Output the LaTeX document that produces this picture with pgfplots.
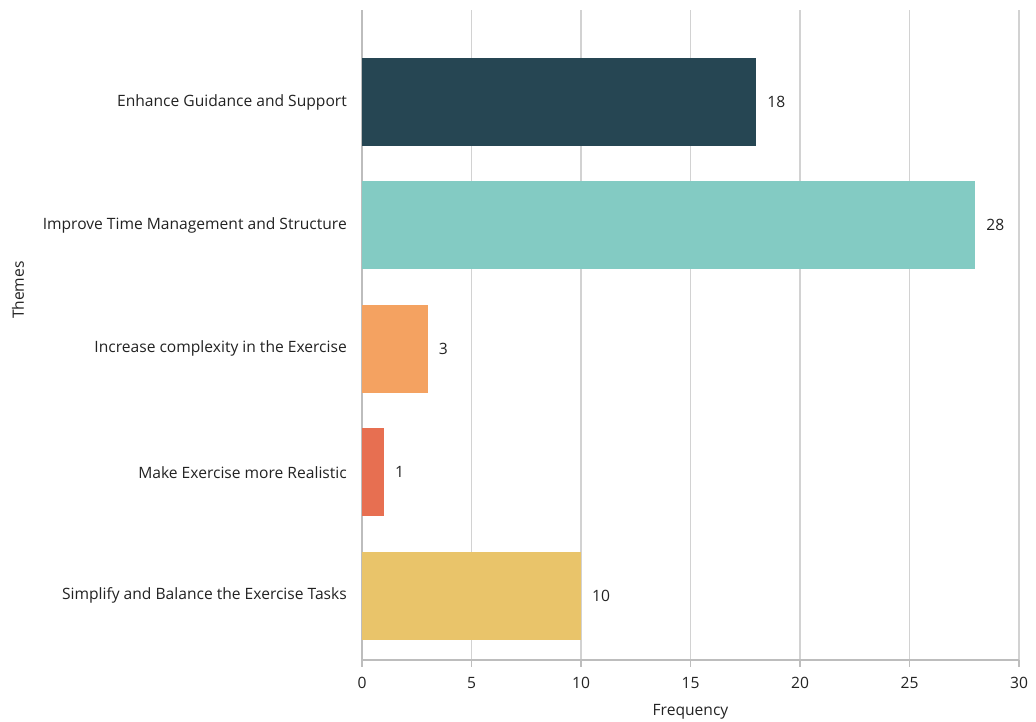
\documentclass[border=0pt]{standalone}
\usepackage{fontspec}
\setmainfont{Open Sans}
\usepackage{pgfplots}
\pgfplotsset{compat=1.18}
\definecolor{c1}{HTML}{264653}
\definecolor{c2}{HTML}{83CBC3}
\definecolor{c3}{HTML}{F4A261}
\definecolor{c4}{HTML}{E76F51}
\definecolor{c5}{HTML}{E9C46A}
\definecolor{gridcol}{HTML}{D2D2D2}
\definecolor{axcol}{HTML}{BDBDBD}
\definecolor{txt}{HTML}{222222}
\begin{document}
\begin{tikzpicture}
\useasboundingbox (-362pt,-62pt) rectangle (674pt,660pt);
\begin{axis}[
  scale only axis, width=657pt, height=650pt,
  at={(0pt,0pt)}, anchor=south west,
  xbar, bar width=0.713, bar shift=0pt,
  xmin=0, xmax=30, ymin=-0.52, ymax=4.745,
  ytick={0,1,2,3,4},
  yticklabels={Simplify and Balance the Exercise Tasks, Make Exercise more Realistic, Increase complexity in the Exercise, Improve Time Management and Structure, Enhance Guidance and Support},
  xtick={0,5,...,30},
  axis x line*=bottom, axis y line*=left,
  axis line style={axcol, line width=1.2pt, -},
  xmajorgrids, grid style={gridcol, line width=1.2pt},
  tick align=outside, major tick length=7pt,
  xtick style={axcol, line width=1.2pt},
  ytick style={draw=none},
  /pgf/number format/assume math mode=true,
  tick label style={font=\fontsize{15.6}{18}\selectfont, text=txt},
  yticklabel style={inner sep=0pt, xshift=-8pt},
  xticklabel style={inner sep=0pt, yshift=-10pt},
  xlabel={Frequency}, ylabel={Themes},
  every axis x label/.style={at={(axis description cs:0.5,0)}, anchor=center, yshift=-52pt, font=\fontsize{15.6}{18}\selectfont, text=txt},
  every axis y label/.style={at={(axis description cs:-0.5236,0.569)}, anchor=center, rotate=90, font=\fontsize{15.6}{18}\selectfont, text=txt},
  nodes near coords,
  nodes near coords style={font=\fontsize{15.6}{18}\selectfont, text=txt, anchor=west, inner sep=0pt, xshift=11pt},
  clip=false,
]
\addplot[fill=c1, draw=none] coordinates {(18,4)};
\addplot[fill=c2, draw=none] coordinates {(28,3)};
\addplot[fill=c3, draw=none] coordinates {(3,2)};
\addplot[fill=c4, draw=none] coordinates {(1,1)};
\addplot[fill=c5, draw=none] coordinates {(10,0)};
\end{axis}
\end{tikzpicture}
\end{document}
